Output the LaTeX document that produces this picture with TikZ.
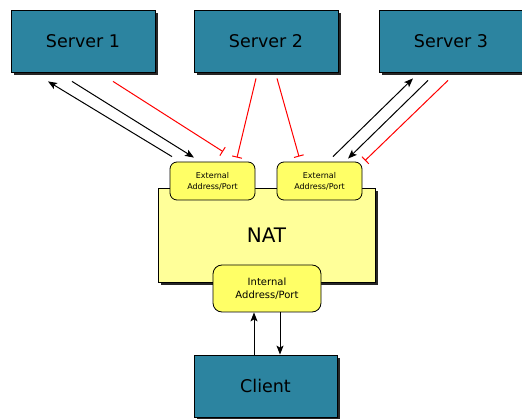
\documentclass[tikz,border=0pt]{standalone}
\usepackage{fontspec}
\setmainfont{DejaVu Sans}
\usepackage{tikz}
\usetikzlibrary{arrows.meta, positioning, calc, shadows}
\definecolor{hostteal}{RGB}{44,132,160}
\definecolor{natyellow}{RGB}{255,255,153}
\definecolor{portyellow}{RGB}{255,255,102}

\begin{document}
\begin{tikzpicture}[
  x=1pt, y=-1pt,
  host/.style={draw, line width=0.8pt, fill=hostteal, minimum width=144pt, minimum height=62pt,
    inner sep=0pt, font=\fontsize{17.5}{20}\selectfont,
    drop shadow={shadow xshift=3pt, shadow yshift=-3pt, fill=black!85, opacity=1}},
  natbox/.style={draw, line width=0.8pt, fill=natyellow, minimum width=217pt, minimum height=94pt,
    inner sep=0pt, font=\fontsize{20}{24}\selectfont,
    drop shadow={shadow xshift=3pt, shadow yshift=-3pt, fill=black!85, opacity=1}},
  port/.style={draw, line width=0.8pt, fill=portyellow, rounded corners=7pt, align=center, inner sep=0pt},
  flow/.style={line width=1pt, -{Stealth[length=9pt, width=7pt, inset=2pt]}},
  blocked/.style={line width=1pt, red, -{Bar[width=10pt, line width=1pt]}}
]
\useasboundingbox (0,0) rectangle (522,419);

% servers and client
\node[host] (srv1) at (83,41) {Server 1};
\node[host] (srv2) at (266,41) {Server 2};
\node[host] (srv3) at (451,41) {Server 3};
\node[host, minimum width=143pt] (client) at (265.5,386) {Client};

% the NAT with its ports
\node[natbox] (nat) at (266.5,235) {NAT};
\node[port, minimum width=85pt, minimum height=38pt, font=\fontsize{8}{11}\selectfont]
  (ext1) at (212.5,181) {External\\Address/Port};
\node[port, minimum width=85pt, minimum height=38pt, font=\fontsize{8}{11}\selectfont]
  (ext2) at (319.5,181) {External\\Address/Port};
\node[port, minimum width=108pt, minimum height=47pt, rounded corners=9pt, font=\fontsize{10}{13}\selectfont]
  (int) at (267,288.5) {Internal\\Address/Port};

% traffic to the servers
\draw[flow] ($(ext1.north)+(-40.5,-5)$) -- ($(srv1.south)+(-35,9)$);
\draw[flow] ($(srv1.south)+(-11,9)$) -- ($(ext1.north)+(-18.5,-4)$);
\draw[blocked] ($(srv1.south)+(30,9)$) -- ($(ext1.north)+(10.5,-10)$);
\draw[blocked] ($(srv2.south)+(-10,6)$) -- ($(ext1.north)+(24.5,-4)$);
\draw[blocked] ($(srv2.south)+(11,6)$) -- ($(ext2.north)+(-20.5,-5)$);
\draw[flow] ($(ext2.north)+(13.5,-5)$) -- ($(srv3.south)+(-38,6)$);
\draw[flow] ($(srv3.south)+(-23,8)$) -- ($(ext2.north)+(28.5,-3)$);
\draw[blocked] ($(srv3.south)+(-3,8)$) -- ($(ext2.north)+(45.5,-1)$);

% client side
\draw[flow] ($(client.north)+(-11.5,0)$) -- ($(int.south)+(-13,0)$);
\draw[flow] ($(int.south)+(13,0)$) -- ($(client.north)+(14.5,0)$);
\end{tikzpicture}
\end{document}
